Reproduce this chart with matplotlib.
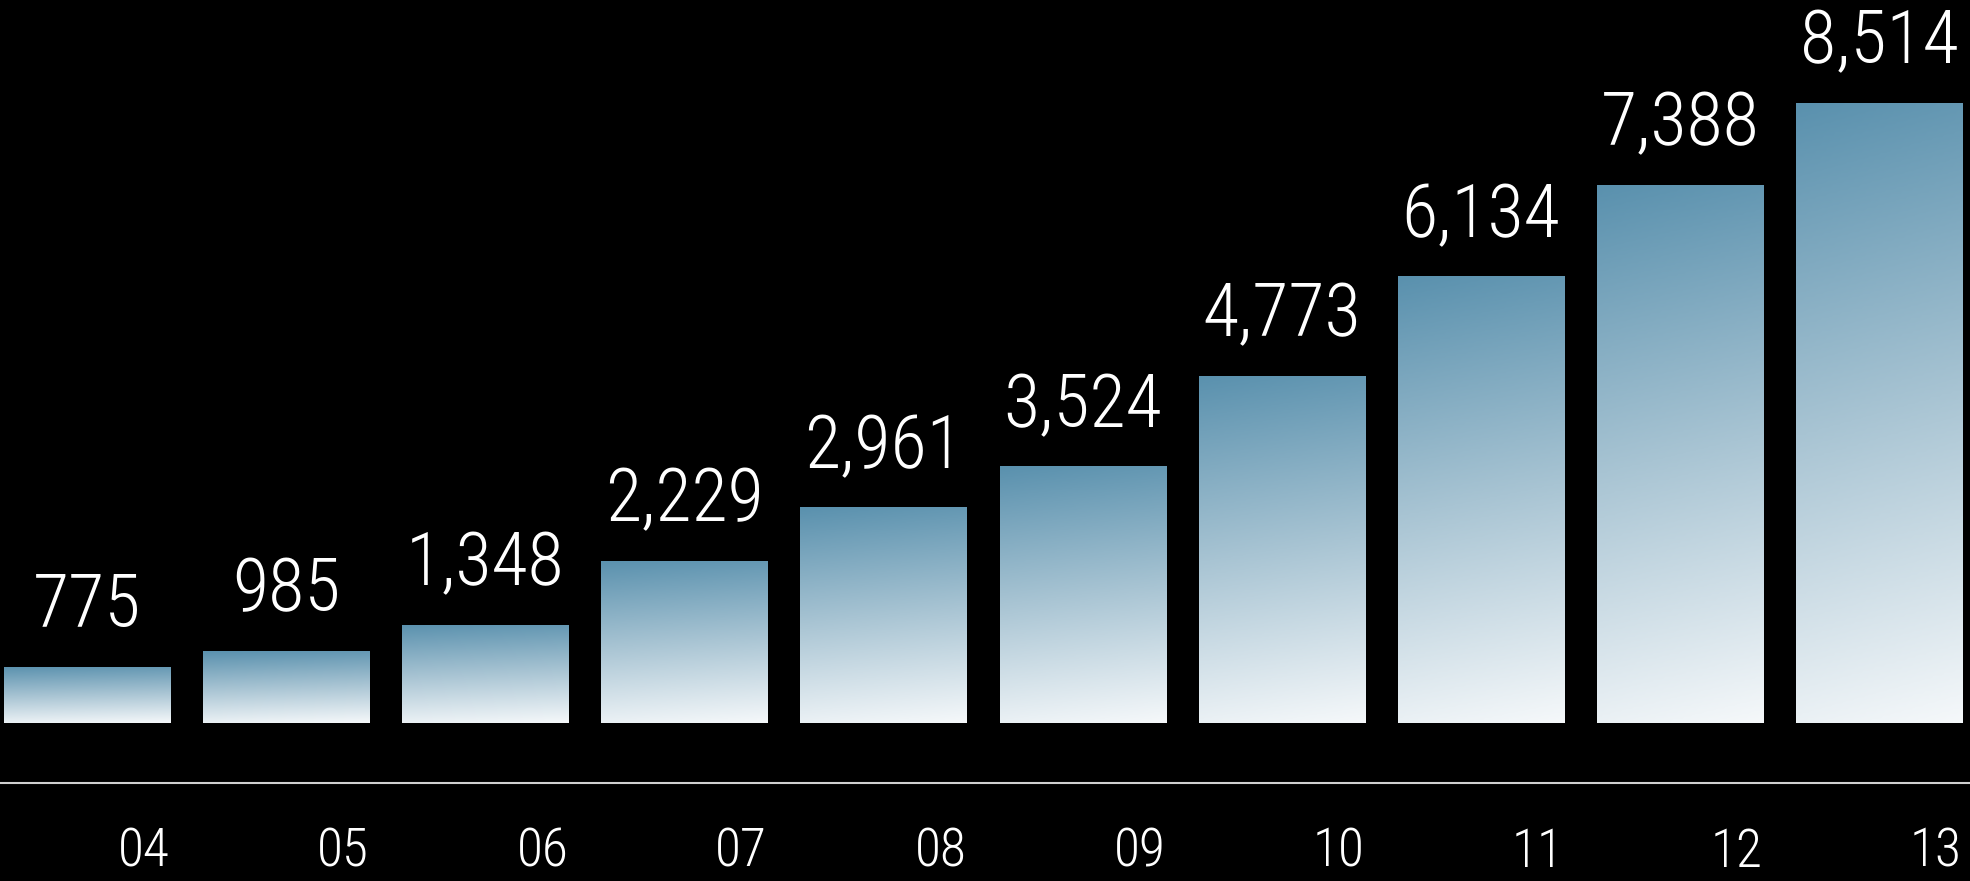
import numpy as np
import matplotlib
matplotlib.use("Agg")
import matplotlib.pyplot as plt
from matplotlib.colors import LinearSegmentedColormap

# Yearly values
years = ["04", "05", "06", "07", "08", "09", "10", "11", "12", "13"]
values = [775, 985, 1348, 2229, 2961, 3524, 4773, 6134, 7388, 8514]
value_labels = ["775", "985", "1,348", "2,229", "2,961", "3,524", "4,773", "6,134", "7,388", "8,514"]

FONT = ["Roboto Condensed", "Liberation Sans Narrow", "Roboto", "DejaVu Sans"]
plt.rcParams["font.family"] = FONT

W, H, DPI = 1970, 881, 100
fig = plt.figure(figsize=(W / DPI, H / DPI), dpi=DPI, facecolor="black")

# axes: bottom spine is the white rule under the bars
ax = fig.add_axes([0, 98 / H, 1, (H - 98) / H], facecolor="black")

x = np.arange(len(values))
bar_w = 0.834
ax.set_xlim(-0.437, 9.457)
ax.set_ylim(-824, 9931)

cmap = LinearSegmentedColormap.from_list("bar", ["#5a91ae", "#a8c4d3", "#f5f8fa"])

bars = ax.bar(x, values, width=bar_w, color="none", edgecolor="none")
ny, nx = 200, 60
yy, xx = np.mgrid[0:1:ny * 1j, 0:1:nx * 1j]
grad = np.clip(yy * 0.93 + xx * 0.07, 0, 1)
for b in bars:
    x0, y0 = b.get_x(), b.get_y()
    w, h = b.get_width(), b.get_height()
    im = ax.imshow(grad, cmap=cmap, vmin=0, vmax=1, aspect="auto",
                   extent=(x0, x0 + w, y0, y0 + h), origin="upper",
                   interpolation="bilinear", zorder=2)
    im.set_clip_path(b)

ax.set_xlim(-0.437, 9.457)
ax.set_ylim(-824, 9931)

# value labels above each bar
for b, lab in zip(bars, value_labels):
    ax.annotate(lab, (b.get_x() + b.get_width() / 2, b.get_height()),
                xytext=(0, 28.5), textcoords="offset points",
                ha="center", va="baseline", color="white",
                fontsize=53.5, fontweight="light", family=FONT)

# year labels, right-aligned to each bar's right edge
ax.set_xticks(x + bar_w / 2)
ax.set_xticklabels(years, ha="right", color="white", fontsize=38.5,
                   fontweight="light", family=FONT)
ax.tick_params(axis="x", length=0, pad=31)
ax.set_yticks([])

for s in ["top", "left", "right"]:
    ax.spines[s].set_visible(False)
ax.spines["bottom"].set_color("#d0d0d0")
ax.spines["bottom"].set_linewidth(1.5)

fig.savefig("out.png", dpi=DPI, facecolor="black")
